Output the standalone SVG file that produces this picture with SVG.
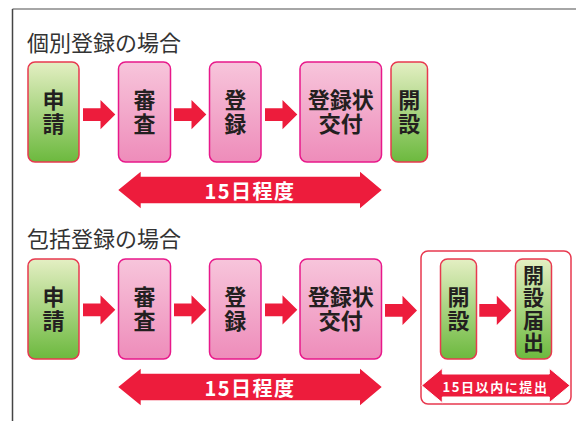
<svg xmlns="http://www.w3.org/2000/svg" width="576" height="421" viewBox="0 0 576 421">
<defs>
<linearGradient id="pink" x1="0" y1="0" x2="0" y2="1">
<stop offset="0" stop-color="#f7c5db"/>
<stop offset="1" stop-color="#ee8cba"/>
</linearGradient>
<linearGradient id="green" x1="0" y1="0" x2="0" y2="1">
<stop offset="0" stop-color="#e4efc3"/>
<stop offset="1" stop-color="#6cb93e"/>
</linearGradient>
<style>
.pk{fill:url(#pink);stroke:#e8188a;stroke-width:1.5}
.gr{fill:url(#green);stroke:#e8384f;stroke-width:1.5}
.lb{font-family:"Noto Sans CJK JP","Noto Sans",sans-serif;font-weight:bold;font-size:22px;fill:#231f20;text-anchor:middle}
.vt{font-family:"Noto Sans CJK JP","Noto Sans",sans-serif;font-weight:bold;font-size:22px;fill:#231f20;text-anchor:middle;writing-mode:vertical-rl;letter-spacing:2px}
.tt{font-family:"Noto Sans CJK JP","Noto Sans",sans-serif;font-size:22px;fill:#333}
.ar{fill:#ed1c3c}
.wt{font-family:"Noto Sans CJK JP","Noto Sans",sans-serif;font-weight:bold;fill:#fff;text-anchor:middle}
</style>
</defs>
<rect width="576" height="421" fill="#fff"/>
<path d="M12.5 9 H576" stroke="#888" stroke-width="1.5" fill="none"/>
<path d="M12.5 9 V421" stroke="#444" stroke-width="1.5" fill="none"/>

<text class="tt" x="27" y="51">個別登録の場合</text>
<text class="tt" x="27" y="247">包括登録の場合</text>

<g id="group-box">
<rect x="421" y="251" width="150" height="153" rx="7" fill="#fff" stroke="#e8384f" stroke-width="1.5"/>
</g>

<g id="n1-shinsei"><rect class="gr" x="28" y="62" width="51" height="100" rx="7"/><text class="vt" x="53.5" y="113">申請</text></g>
<g id="n1-shinsa"><rect class="pk" x="118.5" y="62" width="52" height="100" rx="7"/><text class="vt" x="144.5" y="113">審査</text></g>
<g id="n1-toroku"><rect class="pk" x="209.5" y="62" width="51.5" height="100" rx="7"/><text class="vt" x="235.3" y="113">登録</text></g>
<g id="n1-kofu"><rect class="pk" x="300" y="62" width="81.5" height="100" rx="7"/><text class="lb" x="340.8" y="108">登録状<tspan x="340.8" dy="24">交付</tspan></text></g>
<g id="n1-kaisetsu"><rect class="gr" x="391" y="62" width="36.5" height="100" rx="7"/><text class="vt" x="409.2" y="113">開設</text></g>

<g id="n2-shinsei"><rect class="gr" x="28" y="259" width="51" height="100" rx="7"/><text class="vt" x="53.5" y="310">申請</text></g>
<g id="n2-shinsa"><rect class="pk" x="118.5" y="259" width="52" height="100" rx="7"/><text class="vt" x="144.5" y="310">審査</text></g>
<g id="n2-toroku"><rect class="pk" x="209.5" y="259" width="51.5" height="100" rx="7"/><text class="vt" x="235.3" y="310">登録</text></g>
<g id="n2-kofu"><rect class="pk" x="300" y="259" width="81.5" height="100" rx="7"/><text class="lb" x="340.8" y="305">登録状<tspan x="340.8" dy="24">交付</tspan></text></g>
<g id="n2-kaisetsu"><rect class="gr" x="440.5" y="259" width="36" height="100" rx="7"/><text class="vt" x="458.5" y="310">開設</text></g>
<g id="n2-todokede"><rect class="gr" x="515.5" y="259" width="36" height="100" rx="7"/><text class="vt" x="533.5" y="309.5" style="font-size:21px;letter-spacing:1.5px">開設届出</text></g>

<g id="connectors">
<path class="ar" d="M83 108.2 H100.5 V100 L115.3 114.6 L100.5 129.2 V121 H83 Z"/>
<path class="ar" d="M174 108.2 H191.5 V100 L206.3 114.6 L191.5 129.2 V121 H174 Z"/>
<path class="ar" d="M265 108.2 H282.5 V100 L297.3 114.6 L282.5 129.2 V121 H265 Z"/>

<path class="ar" d="M83 303.4 H100.5 V295.2 L115.3 309.8 L100.5 324.4 V316.2 H83 Z"/>
<path class="ar" d="M174 303.4 H191.5 V295.2 L206.3 309.8 L191.5 324.4 V316.2 H174 Z"/>
<path class="ar" d="M265 303.4 H282.5 V295.2 L297.3 309.8 L282.5 324.4 V316.2 H265 Z"/>
<path class="ar" d="M385 304 H402.5 V295.8 L417 310.4 L402.5 325 V316.8 H385 Z"/>
<path class="ar" d="M479.3 304 H496.8 V295.8 L511.3 310.4 L496.8 325 V316.8 H479.3 Z"/>

<path class="ar" d="M118.3 190 L140.7 171.7 V176.7 H360 V171.7 L381.7 190 L360 208.3 V203.3 H140.7 V208.3 Z"/>
<path class="ar" d="M118.3 387 L140.7 368.7 V373.7 H360 V368.7 L381.7 387 L360 405.3 V400.3 H140.7 V405.3 Z"/>
<path class="ar" d="M421.7 385.5 L442.3 368.3 V374 H549.3 V368.3 L570 385.5 L549.3 402.7 V397 H442.3 V402.7 Z" stroke="#fff" stroke-width="1"/>
</g>

<text class="wt" x="250" y="199" style="font-size:20px;letter-spacing:1.5px">15日程度</text>
<text class="wt" x="250" y="396" style="font-size:20px;letter-spacing:1.5px">15日程度</text>
<text class="wt" x="495.5" y="391.5" style="font-size:13px;letter-spacing:1.6px">15日以内に提出</text>
</svg>
